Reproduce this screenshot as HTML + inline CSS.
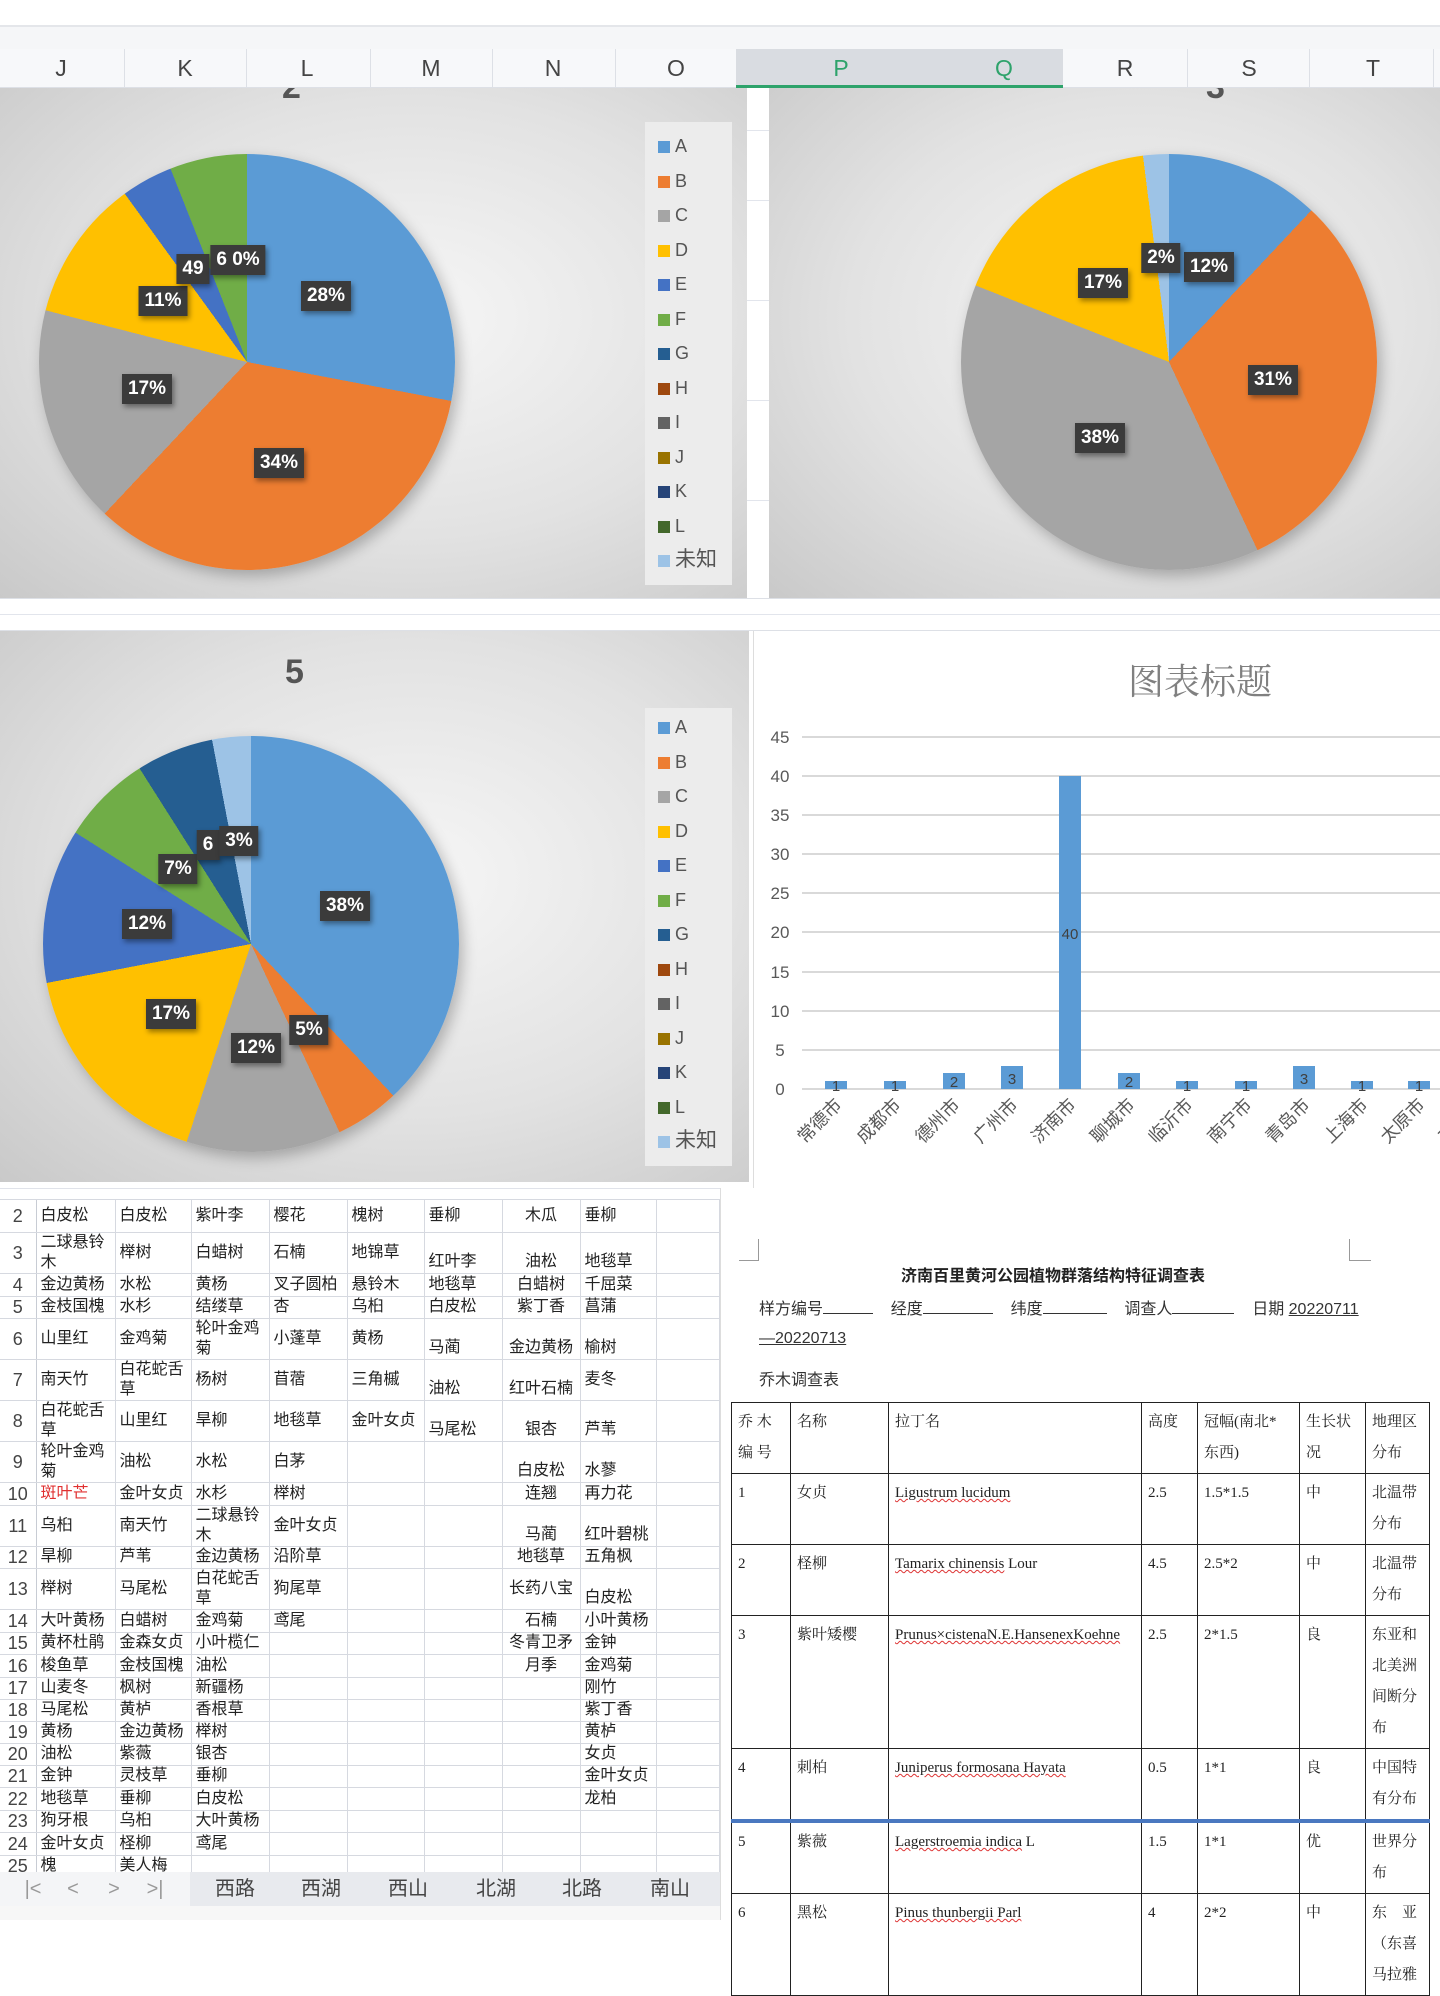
<!DOCTYPE html>
<html><head><meta charset="utf-8">
<style>
*{margin:0;padding:0;box-sizing:border-box}
body{width:1440px;height:1920px;position:relative;overflow:hidden;background:#fff;font-family:"Liberation Sans","Noto Sans CJK SC",sans-serif}
.a{position:absolute}
.col{position:absolute;top:49px;height:39px;font-size:23px;color:#444;transform:translateX(-50%);line-height:39px}
.panel{position:absolute;background:radial-gradient(ellipse at 55% 45%,#f6f6f6 0%,#e2e2e2 55%,#c9c9c9 100%)}
.pie{position:absolute;border-radius:50%;box-shadow:4px 6px 14px rgba(0,0,0,.25)}
.lb{position:absolute;transform:translate(-50%,-50%);background:#3b3b3b;color:#fff;font-weight:bold;font-size:19px;padding:4px 6px;box-shadow:2px 3px 5px rgba(0,0,0,.4);white-space:nowrap}
.leg{position:absolute;background:#ececec;width:87px}
.li{position:absolute;left:13px;width:75px;white-space:nowrap;font-size:18px;color:#555;line-height:20px;height:20px}
.li i{display:inline-block;width:12px;height:12px;margin-right:5px;vertical-align:-1px}
table.s{position:absolute;left:0;top:1200px;border-collapse:collapse;table-layout:fixed;font-size:16px;color:#222}
table.s td{border-bottom:1px solid #d6d9e0;border-right:1px solid #d6d9e0;padding:0 4px;line-height:20px;vertical-align:middle;overflow:hidden;word-break:break-all}
table.s td.n{color:#444;font-size:18px;text-align:center;padding:0;border-right:1px solid #c8ccd4}
table.s td.b{vertical-align:bottom;padding-bottom:1px}
table.s td.c{text-align:center}
table.d{position:absolute;left:731px;top:1402px;border-collapse:collapse;table-layout:fixed;font-size:15px;color:#222;font-family:"Liberation Serif","Noto Serif CJK SC",serif}
table.d td{border:1.5px solid #222;vertical-align:top;padding:4px 6px;line-height:31px}
.w{text-decoration:underline wavy #d33;text-decoration-thickness:1px}
.tab{position:absolute;top:1873px;font-size:20px;color:#444;transform:translateX(-50%);line-height:33px}
</style></head><body>
<div class="a" style="left:0;top:25px;width:1440px;height:2px;background:#e4e6ea"></div>
<div class="a" style="left:0;top:27px;width:1440px;height:22px;background:#f5f6f8"></div>
<div class="a" style="left:0;top:49px;width:1440px;height:39px;background:#f7f8fa;border-bottom:1px solid #dde0e6"></div>
<div class="a" style="left:736px;top:49px;width:327px;height:39px;background:#d9dce1;border-bottom:3px solid #2ea36b"></div>
<div class="a" style="left:124px;top:49px;width:1px;height:39px;background:#dde0e6"></div>
<div class="a" style="left:246px;top:49px;width:1px;height:39px;background:#dde0e6"></div>
<div class="a" style="left:370px;top:49px;width:1px;height:39px;background:#dde0e6"></div>
<div class="a" style="left:492px;top:49px;width:1px;height:39px;background:#dde0e6"></div>
<div class="a" style="left:615px;top:49px;width:1px;height:39px;background:#dde0e6"></div>
<div class="a" style="left:1187px;top:49px;width:1px;height:39px;background:#dde0e6"></div>
<div class="a" style="left:1309px;top:49px;width:1px;height:39px;background:#dde0e6"></div>
<div class="a" style="left:1433px;top:49px;width:1px;height:39px;background:#dde0e6"></div>
<div class="col" style="left:61px">J</div><div class="col" style="left:185px">K</div><div class="col" style="left:307px">L</div><div class="col" style="left:431px">M</div><div class="col" style="left:553px">N</div><div class="col" style="left:676px">O</div><div class="col" style="left:841px;color:#2ea36b">P</div><div class="col" style="left:1004px;color:#2ea36b">Q</div><div class="col" style="left:1125px">R</div><div class="col" style="left:1249px">S</div><div class="col" style="left:1373px">T</div>

<div class="a" style="left:0;top:598px;width:1440px;height:33px;background:#fff;border-top:1px solid #dde0e6;border-bottom:1px solid #dde0e6"></div>
<div class="a" style="left:0;top:614px;width:1440px;height:1px;background:#e2e5ec"></div>
<div class="a" style="left:747px;top:88px;width:22px;height:510px;background:#fff"></div>
<div class="a" style="left:747px;top:130px;width:22px;height:1px;background:#e2e5ec"></div>
<div class="a" style="left:747px;top:200px;width:22px;height:1px;background:#e2e5ec"></div>
<div class="a" style="left:747px;top:300px;width:22px;height:1px;background:#e2e5ec"></div>
<div class="a" style="left:747px;top:400px;width:22px;height:1px;background:#e2e5ec"></div>
<div class="a" style="left:747px;top:500px;width:22px;height:1px;background:#e2e5ec"></div>

<!-- chart 2 -->
<div class="panel" style="left:0;top:88px;width:747px;height:510px"></div>
<div class="a" style="left:282px;top:70px;font-size:34px;font-weight:bold;color:#555;line-height:34px;clip-path:inset(18px 0 0 0);height:40px">2</div>
<div class="pie" style="left:39px;top:154px;width:416px;height:416px;background:conic-gradient(#5b9bd5 0 28%,#ed7d31 28% 62%,#a5a5a5 62% 79%,#ffc000 79% 90%,#4472c4 90% 94%,#70ad47 94% 100%)"></div>
<div class="lb" style="left:326px;top:296px">28%</div>
<div class="lb" style="left:279px;top:463px">34%</div>
<div class="lb" style="left:147px;top:389px">17%</div>
<div class="lb" style="left:163px;top:301px">11%</div>
<div class="lb" style="left:193px;top:269px">49</div>
<div class="lb" style="left:238px;top:260px">6 0%</div>

<!-- chart 3 -->
<div class="panel" style="left:769px;top:88px;width:671px;height:510px"></div>
<div class="a" style="left:1206px;top:70px;font-size:34px;font-weight:bold;color:#555;line-height:34px;clip-path:inset(18px 0 0 0);height:40px">3</div>
<div class="pie" style="left:961px;top:154px;width:416px;height:416px;background:conic-gradient(#5b9bd5 0 12%,#ed7d31 12% 43%,#a5a5a5 43% 81%,#ffc000 81% 98%,#9dc3e6 98% 100%)"></div>
<div class="lb" style="left:1209px;top:267px">12%</div>
<div class="lb" style="left:1273px;top:380px">31%</div>
<div class="lb" style="left:1100px;top:438px">38%</div>
<div class="lb" style="left:1103px;top:283px">17%</div>
<div class="lb" style="left:1161px;top:258px">2%</div>

<!-- chart 5 -->
<div class="panel" style="left:0;top:631px;width:749px;height:551px"></div>
<div class="a" style="left:285px;top:652px;font-size:34px;font-weight:bold;color:#555;line-height:40px">5</div>
<div class="pie" style="left:43px;top:736px;width:416px;height:416px;background:conic-gradient(#5b9bd5 0 38%,#ed7d31 38% 43%,#a5a5a5 43% 55%,#ffc000 55% 72%,#4472c4 72% 84%,#70ad47 84% 91%,#255e91 91% 97%,#9dc3e6 97% 100%)"></div>
<div class="lb" style="left:345px;top:906px">38%</div>
<div class="lb" style="left:309px;top:1030px">5%</div>
<div class="lb" style="left:256px;top:1048px">12%</div>
<div class="lb" style="left:171px;top:1014px">17%</div>
<div class="lb" style="left:147px;top:924px">12%</div>
<div class="lb" style="left:178px;top:869px">7%</div>
<div class="lb" style="left:208px;top:845px">6</div>
<div class="lb" style="left:239px;top:841px">3%</div>

<!-- legends -->
<div class="leg" style="left:645px;top:122px;height:463px"></div>
<div class="leg" style="left:645px;top:708px;height:458px"></div>
<div class="a" style="left:645px;top:136px">
<div class="li" style="top:0"><i style="background:#5b9bd5"></i>A</div>
<div class="li" style="top:34.5px"><i style="background:#ed7d31"></i>B</div>
<div class="li" style="top:69px"><i style="background:#a5a5a5"></i>C</div>
<div class="li" style="top:103.5px"><i style="background:#ffc000"></i>D</div>
<div class="li" style="top:138px"><i style="background:#4472c4"></i>E</div>
<div class="li" style="top:172.5px"><i style="background:#70ad47"></i>F</div>
<div class="li" style="top:207px"><i style="background:#255e91"></i>G</div>
<div class="li" style="top:241.5px"><i style="background:#9e480e"></i>H</div>
<div class="li" style="top:276px"><i style="background:#636363"></i>I</div>
<div class="li" style="top:310.5px"><i style="background:#997300"></i>J</div>
<div class="li" style="top:345px"><i style="background:#264478"></i>K</div>
<div class="li" style="top:379.5px"><i style="background:#43682b"></i>L</div>
<div class="li" style="top:414px;font-size:21px"><i style="background:#9dc3e6"></i>未知</div>
</div>
<div class="a" style="left:645px;top:717px">
<div class="li" style="top:0"><i style="background:#5b9bd5"></i>A</div>
<div class="li" style="top:34.5px"><i style="background:#ed7d31"></i>B</div>
<div class="li" style="top:69px"><i style="background:#a5a5a5"></i>C</div>
<div class="li" style="top:103.5px"><i style="background:#ffc000"></i>D</div>
<div class="li" style="top:138px"><i style="background:#4472c4"></i>E</div>
<div class="li" style="top:172.5px"><i style="background:#70ad47"></i>F</div>
<div class="li" style="top:207px"><i style="background:#255e91"></i>G</div>
<div class="li" style="top:241.5px"><i style="background:#9e480e"></i>H</div>
<div class="li" style="top:276px"><i style="background:#636363"></i>I</div>
<div class="li" style="top:310.5px"><i style="background:#997300"></i>J</div>
<div class="li" style="top:345px"><i style="background:#264478"></i>K</div>
<div class="li" style="top:379.5px"><i style="background:#43682b"></i>L</div>
<div class="li" style="top:414px;font-size:21px"><i style="background:#9dc3e6"></i>未知</div>
</div>

<!-- bar chart -->
<div class="a" style="left:753px;top:631px;width:687px;height:557px;background:#fff;border-left:1px solid #ddd"></div>
<svg class="a" style="left:0;top:0" width="1440" height="1920" font-family="Liberation Sans, Noto Sans CJK SC, sans-serif">
<text x="1200" y="694" font-size="36" fill="#808080" text-anchor="middle" font-family="Liberation Serif, Noto Serif CJK SC, serif">图表标题</text>
<g stroke="#d9d9d9" stroke-width="2">
<line x1="802" y1="737" x2="1440" y2="737"/><line x1="802" y1="776" x2="1440" y2="776"/><line x1="802" y1="815" x2="1440" y2="815"/><line x1="802" y1="854" x2="1440" y2="854"/><line x1="802" y1="893" x2="1440" y2="893"/><line x1="802" y1="932" x2="1440" y2="932"/><line x1="802" y1="972" x2="1440" y2="972"/><line x1="802" y1="1011" x2="1440" y2="1011"/><line x1="802" y1="1050" x2="1440" y2="1050"/><line x1="802" y1="1089" x2="1440" y2="1089"/>
</g>
<g font-size="17" fill="#595959" text-anchor="middle">
<text x="780" y="743">45</text><text x="780" y="782">40</text><text x="780" y="821">35</text><text x="780" y="860">30</text><text x="780" y="899">25</text><text x="780" y="938">20</text><text x="780" y="978">15</text><text x="780" y="1017">10</text><text x="780" y="1056">5</text><text x="780" y="1095">0</text>
</g>
<g fill="#5b9bd5">
<rect x="825" y="1081" width="22" height="8"/><rect x="884" y="1081" width="22" height="8"/><rect x="943" y="1073" width="22" height="16"/><rect x="1001" y="1066" width="22" height="23"/><rect x="1059" y="776" width="22" height="313"/><rect x="1118" y="1073" width="22" height="16"/><rect x="1176" y="1081" width="22" height="8"/><rect x="1235" y="1081" width="22" height="8"/><rect x="1293" y="1066" width="22" height="23"/><rect x="1351" y="1081" width="22" height="8"/><rect x="1408" y="1081" width="22" height="8"/>
</g>
<g font-size="15" fill="#404040" text-anchor="middle">
<text x="836" y="1091">1</text><text x="895" y="1091">1</text><text x="954" y="1087">2</text><text x="1012" y="1084">3</text><text x="1070" y="939">40</text><text x="1129" y="1087">2</text><text x="1187" y="1091">1</text><text x="1246" y="1091">1</text><text x="1304" y="1084">3</text><text x="1362" y="1091">1</text><text x="1419" y="1091">1</text>
</g>
<g font-size="18" fill="#595959" text-anchor="end">
<text transform="translate(843,1106) rotate(-45)">常德市</text>
<text transform="translate(902,1106) rotate(-45)">成都市</text>
<text transform="translate(961,1106) rotate(-45)">德州市</text>
<text transform="translate(1019,1106) rotate(-45)">广州市</text>
<text transform="translate(1077,1106) rotate(-45)">济南市</text>
<text transform="translate(1136,1106) rotate(-45)">聊城市</text>
<text transform="translate(1194,1106) rotate(-45)">临沂市</text>
<text transform="translate(1253,1106) rotate(-45)">南宁市</text>
<text transform="translate(1311,1106) rotate(-45)">青岛市</text>
<text transform="translate(1369,1106) rotate(-45)">上海市</text>
<text transform="translate(1426,1106) rotate(-45)">太原市</text>
<text transform="translate(1484,1106) rotate(-45)">天津市</text>
</g>
</svg>

<!-- spreadsheet -->
<div class="a" style="left:0;top:1182px;width:720px;height:18px;background:#fff;border-bottom:1px solid #d6d9e0"></div>
<div class="a" style="left:0;top:1188px;width:720px;height:1px;background:#e0e3ea"></div>
<table class="s">
<colgroup><col style="width:36px"><col style="width:79px"><col style="width:76px"><col style="width:78px"><col style="width:78px"><col style="width:77px"><col style="width:78px"><col style="width:78px"><col style="width:76px"><col style="width:63px"></colgroup>
<tr style="height:32px"><td class="n">2</td><td>白皮松</td><td>白皮松</td><td>紫叶李</td><td>樱花</td><td>槐树</td><td>垂柳</td><td class="c">木瓜</td><td>垂柳</td><td></td></tr>
<tr style="height:40px"><td class="n">3</td><td>二球悬铃木</td><td>榉树</td><td>白蜡树</td><td>石楠</td><td>地锦草</td><td class="b">红叶李</td><td class="c b">油松</td><td class="b">地毯草</td><td></td></tr>
<tr style="height:23px"><td class="n">4</td><td>金边黄杨</td><td>水松</td><td>黄杨</td><td>叉子圆柏</td><td>悬铃木</td><td>地毯草</td><td class="c">白蜡树</td><td>千屈菜</td><td></td></tr>
<tr style="height:22px"><td class="n">5</td><td>金枝国槐</td><td>水杉</td><td>结缕草</td><td>杏</td><td>乌桕</td><td>白皮松</td><td class="c">紫丁香</td><td>菖蒲</td><td></td></tr>
<tr style="height:40px"><td class="n">6</td><td>山里红</td><td>金鸡菊</td><td>轮叶金鸡菊</td><td>小蓬草</td><td>黄杨</td><td class="b">马蔺</td><td class="c b">金边黄杨</td><td class="b">榆树</td><td></td></tr>
<tr style="height:41px"><td class="n">7</td><td>南天竹</td><td>白花蛇舌草</td><td>杨树</td><td>苜蓿</td><td>三角槭</td><td class="b">油松</td><td class="c b">红叶石楠</td><td>麦冬</td><td></td></tr>
<tr style="height:40px"><td class="n">8</td><td>白花蛇舌草</td><td>山里红</td><td>旱柳</td><td>地毯草</td><td>金叶女贞</td><td class="b">马尾松</td><td class="c b">银杏</td><td class="b">芦苇</td><td></td></tr>
<tr style="height:40px"><td class="n">9</td><td>轮叶金鸡菊</td><td>油松</td><td>水松</td><td>白茅</td><td></td><td></td><td class="c b">白皮松</td><td class="b">水蓼</td><td></td></tr>
<tr style="height:23px"><td class="n">10</td><td style="color:#e03030">斑叶芒</td><td>金叶女贞</td><td>水杉</td><td>榉树</td><td></td><td></td><td class="c">连翘</td><td>再力花</td><td></td></tr>
<tr style="height:40px"><td class="n">11</td><td>乌桕</td><td>南天竹</td><td>二球悬铃木</td><td>金叶女贞</td><td></td><td></td><td class="c b">马蔺</td><td class="b">红叶碧桃</td><td></td></tr>
<tr style="height:22px"><td class="n">12</td><td>旱柳</td><td>芦苇</td><td>金边黄杨</td><td>沿阶草</td><td></td><td></td><td class="c">地毯草</td><td>五角枫</td><td></td></tr>
<tr style="height:40px"><td class="n">13</td><td>榉树</td><td>马尾松</td><td>白花蛇舌草</td><td>狗尾草</td><td></td><td></td><td class="c">长药八宝</td><td class="b">白皮松</td><td></td></tr>
<tr style="height:23px"><td class="n">14</td><td>大叶黄杨</td><td>白蜡树</td><td>金鸡菊</td><td>鸢尾</td><td></td><td></td><td class="c">石楠</td><td>小叶黄杨</td><td></td></tr>
<tr style="height:22px"><td class="n">15</td><td>黄杯杜鹃</td><td>金森女贞</td><td>小叶榄仁</td><td></td><td></td><td></td><td class="c">冬青卫矛</td><td>金钟</td><td></td></tr>
<tr style="height:23px"><td class="n">16</td><td>梭鱼草</td><td>金枝国槐</td><td>油松</td><td></td><td></td><td></td><td class="c">月季</td><td>金鸡菊</td><td></td></tr>
<tr style="height:22px"><td class="n">17</td><td>山麦冬</td><td>枫树</td><td>新疆杨</td><td></td><td></td><td></td><td></td><td>刚竹</td><td></td></tr>
<tr style="height:22px"><td class="n">18</td><td>马尾松</td><td>黄栌</td><td>香根草</td><td></td><td></td><td></td><td></td><td>紫丁香</td><td></td></tr>
<tr style="height:22px"><td class="n">19</td><td>黄杨</td><td>金边黄杨</td><td>榉树</td><td></td><td></td><td></td><td></td><td>黄栌</td><td></td></tr>
<tr style="height:22px"><td class="n">20</td><td>油松</td><td>紫薇</td><td>银杏</td><td></td><td></td><td></td><td></td><td>女贞</td><td></td></tr>
<tr style="height:22px"><td class="n">21</td><td>金钟</td><td>灵枝草</td><td>垂柳</td><td></td><td></td><td></td><td></td><td>金叶女贞</td><td></td></tr>
<tr style="height:23px"><td class="n">22</td><td>地毯草</td><td>垂柳</td><td>白皮松</td><td></td><td></td><td></td><td></td><td>龙柏</td><td></td></tr>
<tr style="height:22px"><td class="n">23</td><td>狗牙根</td><td>乌桕</td><td>大叶黄杨</td><td></td><td></td><td></td><td></td><td></td><td></td></tr>
<tr style="height:23px"><td class="n">24</td><td>金叶女贞</td><td>柽柳</td><td>鸢尾</td><td></td><td></td><td></td><td></td><td></td><td></td></tr>
<tr style="height:22px"><td class="n">25</td><td>槐</td><td>美人梅</td><td></td><td></td><td></td><td></td><td></td><td></td><td></td></tr>
</table>
<div class="a" style="left:0;top:1872px;width:720px;height:34px;background:#f4f5f7"></div>
<div class="a" style="left:190px;top:1872px;width:530px;height:34px;background:#e8eaee"></div>
<div class="a" style="left:0;top:1906px;width:720px;height:14px;background:#f7f7f7"></div>
<div class="tab" style="left:33px;color:#999">|&lt;</div><div class="tab" style="left:73px;color:#999">&lt;</div><div class="tab" style="left:114px;color:#999">&gt;</div><div class="tab" style="left:155px;color:#999">&gt;|</div>
<div class="tab" style="left:235px">西路</div><div class="tab" style="left:321px">西湖</div><div class="tab" style="left:408px">西山</div><div class="tab" style="left:496px">北湖</div><div class="tab" style="left:582px">北路</div><div class="tab" style="left:670px">南山</div>

<!-- doc -->
<div class="a" style="left:720px;top:1188px;width:720px;height:732px;background:#fff;border-left:1px solid #ddd"></div>
<div class="a" style="left:739px;top:1239px;width:20px;height:22px;border-right:1px solid #999;border-bottom:1px solid #999"></div>
<div class="a" style="left:1349px;top:1239px;width:22px;height:22px;border-left:1px solid #999;border-bottom:1px solid #999"></div>
<div class="a" style="left:720px;top:1262px;width:666px;text-align:center;font-size:16px;font-weight:bold;color:#222">济南百里黄河公园植物群落结构特征调查表</div>
<div class="a" style="left:759px;top:1295px;font-size:16px;color:#333;white-space:nowrap">样方编号<span style="display:inline-block;width:50px;border-bottom:1px solid #333"></span>&nbsp;&nbsp;&nbsp;&nbsp;经度<span style="display:inline-block;width:70px;border-bottom:1px solid #333"></span>&nbsp;&nbsp;&nbsp;&nbsp;纬度<span style="display:inline-block;width:64px;border-bottom:1px solid #333"></span>&nbsp;&nbsp;&nbsp;&nbsp;调查人<span style="display:inline-block;width:62px;border-bottom:1px solid #333"></span>&nbsp;&nbsp;&nbsp;&nbsp;日期 <u>20220711</u></div>
<div class="a" style="left:759px;top:1330px;font-size:16px;color:#333"><u>—20220713</u></div>
<div class="a" style="left:759px;top:1366px;font-size:16px;color:#333">乔木调查表</div>
<table class="d">
<colgroup><col style="width:59px"><col style="width:98px"><col style="width:253px"><col style="width:56px"><col style="width:102px"><col style="width:66px"><col style="width:64px"></colgroup>
<tr style="height:63px"><td>乔 木<br>编 号</td><td>名称</td><td>拉丁名</td><td>高度</td><td>冠幅(南北*<br>东西)</td><td>生长状<br>况</td><td>地理区<br>分布</td></tr>
<tr style="height:67px"><td>1</td><td>女贞</td><td><span class="w">Ligustrum lucidum</span></td><td>2.5</td><td>1.5*1.5</td><td>中</td><td>北温带<br>分布</td></tr>
<tr style="height:63px"><td>2</td><td>柽柳</td><td><span class="w">Tamarix chinensis</span> Lour</td><td>4.5</td><td>2.5*2</td><td>中</td><td>北温带<br>分布</td></tr>
<tr style="height:122px"><td>3</td><td>紫叶矮樱</td><td><span class="w">Prunus×cistenaN.E.HansenexKoehne</span></td><td>2.5</td><td>2*1.5</td><td>良</td><td>东亚和<br>北美洲<br>间断分<br>布</td></tr>
<tr style="height:62px;border-bottom:4px solid #4a78c0"><td>4</td><td>刺柏</td><td><span class="w">Juniperus formosana Hayata</span></td><td>0.5</td><td>1*1</td><td>良</td><td>中国特<br>有分布</td></tr>
<tr style="height:66px"><td>5</td><td>紫薇</td><td><span class="w">Lagerstroemia indica</span> L</td><td>1.5</td><td>1*1</td><td>优</td><td>世界分<br>布</td></tr>
<tr style="height:90px"><td>6</td><td>黑松</td><td><span class="w">Pinus thunbergii Parl</span></td><td>4</td><td>2*2</td><td>中</td><td>东　亚<br>（东喜<br>马拉雅</td></tr>
</table>
</body></html>
